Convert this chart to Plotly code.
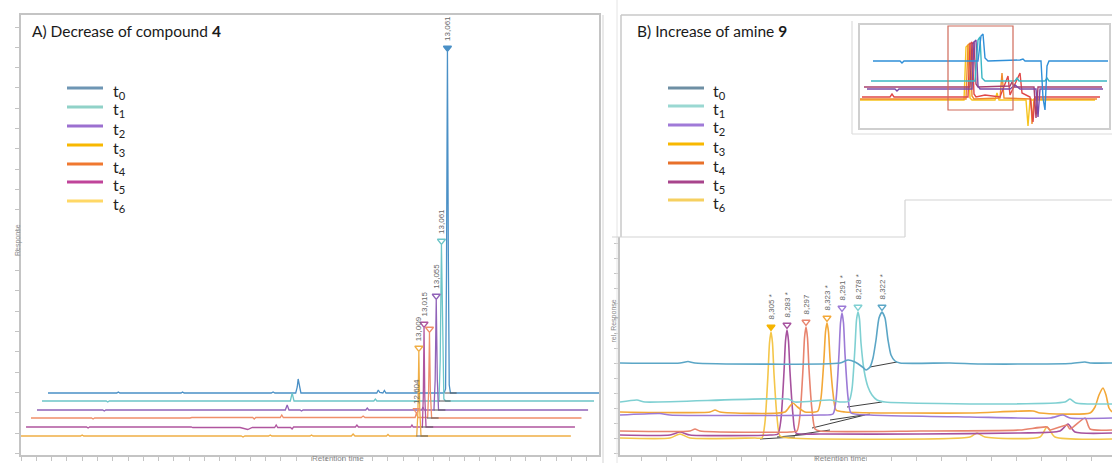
import plotly.graph_objects as go

W, H = 1112, 463

# ======================= DATA =======================
# ---- Panel A: retention time [min] and response (each row relative to its own baseline)
A_T0_RT = [0, 2.25, 2.3, 2.35, 4.35, 4.4, 4.45, 7.3, 7.36, 7.42, 8.1, 8.15, 8.18, 8.22, 8.27,
           10.75, 10.8, 10.85, 10.95, 11.0, 11.05, 12.95, 13.0, 13.03, 13.061, 13.09, 13.12, 13.16, 18.05]
A_T0_R = [0, 0, 1, 0, 0, 1, 0, 0, 1, 0, 0, 6, 14, 6, 0,
          0, 3, 0.5, 0, 2.5, 0, 0, 4, 120, 341, 140, 8, 0, 0]

A_T1_RT = [0, 2.1, 2.15, 2.2, 8.12, 8.18, 8.24, 10.85, 10.9, 10.95, 12.98, 13.02, 13.061, 13.1, 13.14, 13.2, 18.05]
A_T1_R = [0, 0, -1, 0, 0, 8, 0, 0, 2, 0, 0, 40, 156, 50, 2, 0, 0]

A_T2_RT = [0, 2.15, 2.2, 2.25, 8.12, 8.18, 8.24, 8.6, 8.65, 8.7, 10.75, 10.8, 10.85,
           12.58, 12.62, 12.66, 12.98, 13.02, 13.055, 13.09, 13.13, 18.02]
A_T2_R = [0, 0, -1, 0, 0, 5, 0, 0, -1, 0, 0, 2, 0, 0, 3, 0, 0, 30, 110, 30, 0, 0]

A_T4_RT = [0, 1.98, 2.03, 2.08, 5.2, 5.26, 7.25, 7.3, 7.35, 8.15, 8.2, 8.25, 10.8, 10.86, 10.92,
           12.56, 12.604, 12.65, 12.97, 13.0, 13.03, 13.06, 13.1, 18.0]
A_T4_R = [0, 0, -1, 0, 0, 0.5, 0.5, -1, 0.5, 0.5, 3, 0.5, 0.5, 2, 0.5,
          0.5, 5, 0.5, 0.5, 25, 85, 25, 0, 0]

A_T5_RT = [0, 1.98, 2.03, 2.08, 5.4, 5.45, 7.0, 7.15, 7.25, 7.4, 8.13, 8.18, 8.23, 8.65, 8.7, 8.75,
           10.77, 10.82, 10.87, 12.58, 12.62, 12.66, 12.96, 12.99, 13.015, 13.04, 13.08, 17.95]
A_T5_R = [0, 0, -1, 0, 0, -0.5, -0.5, -2, -2.5, -0.5, -0.5, 2, -0.5, -0.5, -2, 0,
          0, 2, 0, 0, 2, 0, 0, 30, 99, 30, 0, 0]

A_T3_RT = [0, 1.95, 2.0, 2.05, 7.2, 7.26, 7.32, 8.1, 8.15, 8.2, 9.45, 9.5, 9.55, 10.8, 10.86, 10.92,
           11.95, 12.0, 12.05, 12.94, 12.98, 13.009, 13.04, 13.08, 17.98]
A_T3_R = [0, 0, 1, 0, 0, -1, 0, 0, 1, 0, 0, 1, 0, 0, 2, 0,
          0, 1.5, 0, 0, 25, 84, 25, 0, 0]

A_PEAK_LABELS = ["13,061", "13,061", "13,055", "", "13,015", "13,009"]
A_MINOR_LABEL = "12,604"
A_MINOR_RT = 12.604

# ---- Panel B: retention time [min] and relative response
B_T0_X = [7.8, 7.92, 7.936, 7.95, 8.24, 8.256, 8.27, 8.285, 8.292, 8.3, 8.306, 8.312, 8.318,
          8.324, 8.33, 8.336, 8.342, 8.35, 8.36, 8.46, 8.52, 8.62, 8.7, 8.73, 8.74, 8.784]
B_T0_Y = [92, 92, 93.5, 92, 92, 95, 93, 88, 85, 88, 97, 115, 137,
          143, 137, 115, 100, 94, 92, 92, 91, 91, 91.5, 93, 92, 92]
B_T1_X = [7.8, 7.834, 7.85, 8.136, 8.15, 8.22, 8.24, 8.258, 8.264, 8.27, 8.273, 8.276, 8.279,
          8.282, 8.288, 8.296, 8.304, 8.314, 8.33, 8.56, 8.69, 8.7, 8.712, 8.784]
B_T1_Y = [53, 55, 53, 56, 53, 55, 53, 54, 66, 108, 135, 143, 136,
          112, 85, 68, 60, 55, 53, 51, 53, 56, 52, 51]
B_T2_X = [7.8, 7.88, 7.9, 8.2, 8.226, 8.232, 8.238, 8.241, 8.244, 8.247, 8.25, 8.256, 8.262,
          8.3, 8.5, 8.66, 8.686, 8.7, 8.784]
B_T2_Y = [40, 41.5, 40, 40, 41, 55, 101, 132, 142, 132, 101, 58, 42,
          40, 38, 37, 40, 37, 37]
B_T3_X = [7.8, 7.98, 7.99, 8.0, 8.13, 8.14, 8.146, 8.155, 8.17, 8.19, 8.196, 8.202, 8.208,
          8.211, 8.214, 8.217, 8.22, 8.226, 8.232, 8.25, 8.5, 8.626, 8.64, 8.74, 8.75, 8.758,
          8.766, 8.772, 8.778, 8.784]
B_T3_Y = [43, 43, 45, 43, 43, 49, 52, 48, 43, 43, 44, 57, 97,
          123, 132, 123, 97, 62, 45, 43, 42, 44, 42, 42, 48, 60,
          67, 60, 47, 43]
B_T4_X = [7.8, 7.94, 7.95, 7.96, 8.14, 8.154, 8.16, 8.166, 8.169, 8.172, 8.175, 8.178, 8.184,
          8.19, 8.2, 8.4, 8.6, 8.654, 8.66, 8.694, 8.7, 8.73, 8.74, 8.784]
B_T4_Y = [24, 24, 26, 24, 23, 24, 40, 86, 117, 128, 117, 86, 45,
          26, 24, 24, 25, 28, 25, 30, 26, 37, 26, 25]
B_T5_X = [7.8, 7.9, 7.92, 7.94, 8.1, 8.116, 8.122, 8.128, 8.131, 8.134, 8.137, 8.14, 8.146,
          8.152, 8.2, 8.4, 8.6, 8.68, 8.696, 8.71, 8.784]
B_T5_Y = [20, 20, 23, 20, 20, 21, 36, 83, 114, 125, 114, 83, 40,
          22, 21, 21, 22, 24, 31, 23, 22]
B_T6_X = [7.8, 7.9, 7.92, 7.94, 8.07, 8.084, 8.09, 8.096, 8.099, 8.102, 8.105, 8.108, 8.114,
          8.12, 8.14, 8.5, 8.514, 8.53, 8.64, 8.654, 8.67, 8.784]
B_T6_Y = [17, 17, 21, 17, 17, 17, 33, 81, 112, 123, 112, 81, 38,
          19, 17, 18, 22, 18, 18, 28, 18, 16]

B_PEAK_LABELS = ["8,322 *", "8,278 *", "8,291 *", "8,323 *", "8,297", "8,283 *", "8,305 *"]
# integration baselines (x0, y0, x1, y1)
B_BASELINES = [(8.30, 88, 8.354, 93), (8.254, 48, 8.324, 53), (8.22, 35, 8.30, 41),
               (8.184, 27, 8.29, 40), (8.15, 20, 8.22, 25), (8.114, 18, 8.184, 21),
               (8.08, 16, 8.15, 18)]

# ---- Inset (overview of all runs, arbitrary units)
IN_BLUE_X = [13, 40, 42, 44, 118, 121, 123, 125, 128, 160, 163, 165, 181, 183, 185, 187, 189, 248]
IN_BLUE_Y = [67, 67, 65, 67, 67, 92, 94, 70, 67, 68, 69, 67, 67, 30, 18, 62, 67, 67]
IN_TEAL_X = [11, 115, 118, 120, 122, 125, 155, 157, 159, 185, 187, 189, 247]
IN_TEAL_Y = [47, 47, 88, 91, 50, 47, 47, 50, 47, 47, 50, 47, 47]
IN_PURP_X = [7, 35, 37, 39, 112, 114, 116, 118, 120, 150, 155, 160, 176, 178, 180, 243]
IN_PURP_Y = [39, 39, 37, 39, 39, 86, 88, 42, 39, 39, 43, 39, 39, 11, 39, 39]
IN_MAG_X = [4, 110, 112, 114, 116, 118, 150, 152, 154, 174, 176, 178, 242]
IN_MAG_Y = [41, 41, 84, 86, 44, 41, 42, 46, 41, 41, 10, 41, 41]
IN_RED_X = [2, 30, 32, 34, 108, 110, 112, 114, 116, 125, 140, 148, 150, 160, 162, 170, 173, 175, 240]
IN_RED_Y = [31, 31, 34, 31, 31, 84, 86, 34, 31, 33, 31, 52, 33, 55, 35, 31, 6, 31, 31]
IN_ORNG_X = [0, 106, 108, 110, 112, 114, 140, 142, 144, 171, 172, 174, 237]
IN_ORNG_Y = [29, 29, 83, 85, 32, 29, 30, 55, 30, 29, 4, 29, 29]
IN_YEL_X = [0, 104, 106, 108, 110, 112, 135, 137, 139, 166, 168, 170, 235]
IN_YEL_Y = [28, 28, 81, 83, 30, 28, 28, 35, 28, 28, 2, 28, 28]
IN_ZOOM_BOX = [88, 153, 18, 102]

LEGEND_LABELS = ["t<sub>0</sub>", "t<sub>1</sub>", "t<sub>2</sub>", "t<sub>3</sub>",
                 "t<sub>4</sub>", "t<sub>5</sub>", "t<sub>6</sub>"]

# ======================= STYLE / LAYOUT =======================
A_ROWS = [(A_T0_RT, A_T0_R), (A_T1_RT, A_T1_R), (A_T2_RT, A_T2_R),
          (A_T4_RT, A_T4_R), (A_T5_RT, A_T5_R), (A_T3_RT, A_T3_R)]
A_ROW_COLORS = ['#4a90c6', '#6cc5c8', '#9062b8', '#ef8f6a', '#b0559f', '#f0ae45']
A_X_SHIFT = [0.883, 0.687, 0.523, 0.327, 0.164, 0.0]
A_Y_SHIFT = [43, 35, 26, 18, 9, 0]

B_ROWS = [(B_T0_X, B_T0_Y), (B_T1_X, B_T1_Y), (B_T2_X, B_T2_Y), (B_T3_X, B_T3_Y),
          (B_T4_X, B_T4_Y), (B_T5_X, B_T5_Y), (B_T6_X, B_T6_Y)]
B_COLORS = ['#5ba6c6', '#7fd0d2', '#9c7ad6', '#f3a838', '#e8846e', '#a6529e', '#f4c64a']

IN_ROWS = [(IN_YEL_X, IN_YEL_Y, '#f6c31c'), (IN_ORNG_X, IN_ORNG_Y, '#f08a2c'),
           (IN_RED_X, IN_RED_Y, '#e04848'), (IN_MAG_X, IN_MAG_Y, '#a8406e'),
           (IN_PURP_X, IN_PURP_Y, '#7b4aa8'), (IN_TEAL_X, IN_TEAL_Y, '#3bb6c4'),
           (IN_BLUE_X, IN_BLUE_Y, '#2f8fd8')]

LEG_A_COLORS = ['#6e96b4', '#90d2c8', '#9c70d0', '#f8b800', '#f07830', '#c0449a', '#ffd866']
LEG_B_COLORS = ['#6e8fa4', '#9ad8d2', '#a07ad8', '#f8b800', '#e8702a', '#a8448c', '#f6d060']
LABEL_FONT = dict(family='Liberation Sans', size=8, color='#666666')


def px(x):
    return x / W


def py(y):
    return (H - y) / H


fig = go.Figure()

# ---- Panel A traces
for i, ((rt, r), col) in enumerate(zip(A_ROWS, A_ROW_COLORS)):
    xs = [v + A_X_SHIFT[i] for v in rt]
    ys = [v + A_Y_SHIFT[i] for v in r]
    fig.add_trace(go.Scatter(x=xs, y=ys, mode='lines', line=dict(color=col, width=1.3),
                             xaxis='x', yaxis='y', hoverinfo='skip'))
    k = r.index(max(r))
    fig.add_trace(go.Scatter(x=[rt[k] - 0.08 + A_X_SHIFT[i], rt[k] + 0.3 + A_X_SHIFT[i]],
                             y=[A_Y_SHIFT[i], A_Y_SHIFT[i]], mode='lines',
                             line=dict(color='#555555', width=1), xaxis='x', yaxis='y'))
    ax = rt[k] + A_X_SHIFT[i]
    ay = r[k] + A_Y_SHIFT[i]
    fig.add_trace(go.Scatter(x=[ax], y=[ay + 4], mode='markers',
                             marker=dict(symbol='triangle-down' if i == 0 else 'triangle-down-open',
                                         size=7, color=col, line=dict(width=1.3, color=col)),
                             xaxis='x', yaxis='y'))
    if A_PEAK_LABELS[i]:
        fig.add_annotation(x=ax, y=ay + 9, xref='x', yref='y', text=A_PEAK_LABELS[i],
                           textangle=-90, showarrow=False, xanchor='center', yanchor='bottom',
                           font=LABEL_FONT)

rt3, r3 = A_ROWS[3]
km = rt3.index(A_MINOR_RT)
mx = rt3[km] + A_X_SHIFT[3]
my = r3[km] + A_Y_SHIFT[3]
fig.add_trace(go.Scatter(x=[mx], y=[my + 3], mode='markers',
                         marker=dict(symbol='triangle-down-open', size=6, color=A_ROW_COLORS[3],
                                     line=dict(width=1.2, color=A_ROW_COLORS[3])),
                         xaxis='x', yaxis='y'))
fig.add_annotation(x=mx, y=my + 7, xref='x', yref='y', text=A_MINOR_LABEL, textangle=-90,
                   showarrow=False, xanchor='center', yanchor='bottom', font=LABEL_FONT)

# ---- Panel B traces
for (x0, y0, x1, y1) in B_BASELINES:
    fig.add_trace(go.Scatter(x=[x0, x1], y=[y0, y1], mode='lines',
                             line=dict(color='#404040', width=1), xaxis='x2', yaxis='y2'))
for i in range(len(B_ROWS) - 1, -1, -1):
    xs, ys = B_ROWS[i]
    fig.add_trace(go.Scatter(x=xs, y=ys, mode='lines', line=dict(color=B_COLORS[i], width=1.6,
                             shape='spline', smoothing=0.6),
                             xaxis='x2', yaxis='y2', hoverinfo='skip'))
for i, (xs, ys) in enumerate(B_ROWS):
    col = B_COLORS[i]
    k = ys.index(max(ys))
    filled = (i == len(B_ROWS) - 1)
    mcol = '#f5b400' if filled else col
    fig.add_trace(go.Scatter(x=[xs[k]], y=[ys[k] + 5], mode='markers',
                             marker=dict(symbol='triangle-down' if filled else 'triangle-down-open',
                                         size=7, color=mcol, line=dict(width=1.3, color=mcol)),
                             xaxis='x2', yaxis='y2'))
    fig.add_annotation(x=xs[k], y=ys[k] + 10, xref='x2', yref='y2', text=B_PEAK_LABELS[i],
                       textangle=-90, showarrow=False, xanchor='center', yanchor='bottom',
                       font=LABEL_FONT)

# ---- Inset traces
for xs, ys, col in IN_ROWS:
    fig.add_trace(go.Scatter(x=xs, y=ys, mode='lines', line=dict(color=col, width=1.4),
                             xaxis='x3', yaxis='y3', hoverinfo='skip'))
fig.add_shape(type='rect', xref='x3', yref='y3', x0=IN_ZOOM_BOX[0], x1=IN_ZOOM_BOX[1],
              y0=IN_ZOOM_BOX[2], y1=IN_ZOOM_BOX[3], line=dict(color='#d06a5a', width=1.2))


def pline(x0, y0, x1, y1, color='#cfcfcf', width=1.5):
    fig.add_shape(type='line', xref='paper', yref='paper', x0=px(x0), y0=py(y0),
                  x1=px(x1), y1=py(y1), line=dict(color=color, width=width))


pline(603, 15, 603, 463, '#dadada', 1.2)
pline(617, 0, 617, 463, '#e4e4e4', 1)
pline(621, 15, 621, 237, '#c8c8c8', 1.5)
pline(621, 15, 1112, 15, '#c8c8c8', 1.5)
pline(612, 237, 905, 237, '#d4d4d4', 1.2)
pline(905, 200, 905, 237, '#d4d4d4', 1.2)
pline(905, 200, 1112, 200, '#d4d4d4', 1.2)
pline(852, 21, 852, 134, '#dcdcdc', 1.2)
pline(852, 134, 1112, 134, '#dcdcdc', 1.2)

# ---- manual legends
LEG_A_Y = [88, 107, 126, 145, 164, 182, 201]
LEG_B_Y = [88, 106, 125, 144, 163, 182, 200]
for i, lab in enumerate(LEGEND_LABELS):
    pline(67, LEG_A_Y[i], 103, LEG_A_Y[i], LEG_A_COLORS[i], 3)
    fig.add_annotation(x=px(111), y=py(LEG_A_Y[i] + 3), xref='paper', yref='paper', text=lab,
                       showarrow=False, xanchor='left', yanchor='middle',
                       font=dict(family='Lato', size=16, color='#222222'))
    pline(668, LEG_B_Y[i], 704, LEG_B_Y[i], LEG_B_COLORS[i], 3)
    fig.add_annotation(x=px(711), y=py(LEG_B_Y[i] + 3), xref='paper', yref='paper', text=lab,
                       showarrow=False, xanchor='left', yanchor='middle',
                       font=dict(family='Lato', size=16, color='#222222'))

# ---- titles and axis captions
fig.add_annotation(x=px(30), y=py(31), xref='paper', yref='paper',
                   text='A) Decrease of compound <b>4</b>', showarrow=False,
                   xanchor='left', yanchor='middle', font=dict(family='Lato', size=15.5, color='#1a1a1a'))
fig.add_annotation(x=px(635), y=py(31), xref='paper', yref='paper',
                   text='B) Increase of amine <b>9</b>', showarrow=False,
                   xanchor='left', yanchor='middle', font=dict(family='Lato', size=15.5, color='#1a1a1a'))
fig.add_annotation(x=px(12), y=py(240), xref='paper', yref='paper', text='Response',
                   textangle=-90, showarrow=False, font=dict(family='Liberation Sans', size=7, color='#888888'))
fig.add_annotation(x=px(613), y=py(345), xref='paper', yref='paper', text='rel. Response',
                   textangle=-90, showarrow=False, font=dict(family='Liberation Sans', size=7, color='#888888'))
fig.add_annotation(x=px(310), y=py(465), xref='paper', yref='paper', text='Retention time',
                   showarrow=False, font=dict(family='Liberation Sans', size=8, color='#888888'))
fig.add_annotation(x=px(868), y=py(465), xref='paper', yref='paper', text='Retention time',
                   showarrow=False, font=dict(family='Liberation Sans', size=8, color='#888888'))

axis_common = dict(showgrid=False, zeroline=False, showticklabels=False, fixedrange=True)

fig.update_layout(
    width=W, height=H, margin=dict(l=0, r=0, t=0, b=0),
    paper_bgcolor='white', plot_bgcolor='rgba(0,0,0,0)', showlegend=False,
    xaxis=dict(domain=[px(21), px(599)], range=[0, 18.9], showline=True, mirror=True,
               linecolor='#c4c4c4', linewidth=1.5, ticks='outside', ticklen=4, tickcolor='#c4c4c4',
               tick0=0, dtick=0.5, anchor='y', **axis_common),
    yaxis=dict(domain=[py(455), py(15)], range=[-19, 421], showline=True, mirror=True,
               linecolor='#c4c4c4', linewidth=1.5, ticks='outside', ticklen=4, tickcolor='#c4c4c4',
               tick0=3, dtick=20.3, anchor='x', **axis_common),
    xaxis2=dict(domain=[px(620), 1.0], range=[7.8, 8.784], showline=True, mirror=False,
                linecolor='#c4c4c4', linewidth=2, ticks='outside', ticklen=4, tickcolor='#c4c4c4',
                tick0=7.842, dtick=0.05, anchor='y2', **axis_common),
    yaxis2=dict(domain=[py(455), py(237)], range=[0, 218], showline=True, mirror=False,
                linecolor='#c4c4c4', linewidth=1.5, ticks='outside', ticklen=4, tickcolor='#c4c4c4',
                tick0=2, dtick=15, anchor='x2', **axis_common),
    xaxis3=dict(domain=[px(860), px(1109)], range=[0, 249], showline=True, mirror=True,
                linecolor='#cfcfcf', linewidth=1.5, ticks='', anchor='y3', **axis_common),
    yaxis3=dict(domain=[py(128), py(25)], range=[0, 103], showline=True, mirror=True,
                linecolor='#cfcfcf', linewidth=1.5, ticks='', anchor='x3', **axis_common),
)

fig.write_html("out.html", config={'displayModeBar': False},
               post_script="document.body.style.margin='0';")
